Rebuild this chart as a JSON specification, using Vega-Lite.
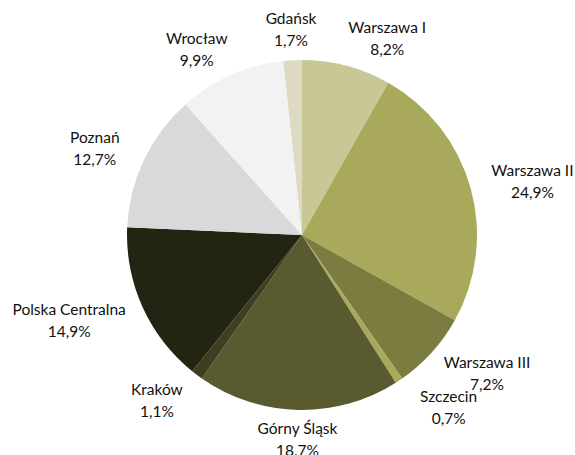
{
  "$schema": "https://vega.github.io/schema/vega-lite/v6.json",
  "width": 546,
  "height": 440,
  "autosize": "none",
  "padding": {"left": 29, "top": 15, "right": 0, "bottom": 0},
  "background": "white",
  "view": {"stroke": null},
  "data": {
    "values": [
      {"ord": 1, "region": "Warszawa I", "share": 8.2, "label": "Warszawa I\n8,2%"},
      {"ord": 2, "region": "Warszawa II", "share": 24.9, "label": "Warszawa II\n24,9%"},
      {"ord": 3, "region": "Warszawa III", "share": 7.2, "label": "Warszawa III\n7,2%"},
      {"ord": 4, "region": "Szczecin", "share": 0.7, "label": "Szczecin\n0,7%"},
      {"ord": 5, "region": "Górny Śląsk", "share": 18.7, "label": "Górny Śląsk\n18,7%"},
      {"ord": 6, "region": "Kraków", "share": 1.1, "label": "Kraków\n1,1%"},
      {"ord": 7, "region": "Polska Centralna", "share": 14.9, "label": "Polska Centralna\n14,9%"},
      {"ord": 8, "region": "Poznań", "share": 12.7, "label": "Poznań\n12,7%"},
      {"ord": 9, "region": "Wrocław", "share": 9.9, "label": "Wrocław\n9,9%"},
      {"ord": 10, "region": "Gdańsk", "share": 1.7, "label": "Gdańsk\n1,7%"}
    ]
  },
  "encoding": {
    "theta": {"field": "share", "type": "quantitative", "stack": true},
    "order": {"field": "ord", "type": "quantitative"}
  },
  "layer": [
    {
      "mark": {"type": "arc", "outerRadius": 175},
      "encoding": {
        "color": {
          "field": "region",
          "type": "nominal",
          "legend": null,
          "scale": {
            "domain": ["Warszawa I", "Warszawa II", "Warszawa III", "Szczecin", "Górny Śląsk", "Kraków", "Polska Centralna", "Poznań", "Wrocław", "Gdańsk"],
            "range": ["#c8c896", "#a8a95a", "#7b7c40", "#a8a95a", "#5a5a30", "#3e3f22", "#242413", "#d9d9d9", "#f2f2f2", "#ddd9c3"]
          }
        }
      }
    },
    {
      "mark": {"type": "text", "radius": 205, "dx": 33, "dy": -9, "font": "Lato", "fontSize": 15.5, "lineHeight": 22, "lineBreak": "\n", "color": "#111111", "align": "center", "baseline": "middle"},
      "encoding": {
        "text": {"field": "label", "type": "nominal"},
        "opacity": {"condition": {"test": "indexof(['Warszawa I','Warszawa II','Warszawa III','Szczecin'], datum.region) >= 0", "value": 1}, "value": 0}
      }
    },
    {
      "mark": {"type": "text", "radius": 205, "dx": -22, "dy": -9, "font": "Lato", "fontSize": 15.5, "lineHeight": 22, "lineBreak": "\n", "color": "#111111", "align": "center", "baseline": "middle"},
      "encoding": {
        "text": {"field": "label", "type": "nominal"},
        "opacity": {"condition": {"test": "indexof(['Kraków','Poznań','Wrocław'], datum.region) >= 0", "value": 1}, "value": 0}
      }
    },
    {
      "mark": {"type": "text", "radius": 205, "dx": -46, "dy": -9, "font": "Lato", "fontSize": 15.5, "lineHeight": 22, "lineBreak": "\n", "color": "#111111", "align": "center", "baseline": "middle"},
      "encoding": {
        "text": {"field": "label", "type": "nominal"},
        "opacity": {"condition": {"test": "datum.region === 'Polska Centralna'", "value": 1}, "value": 0}
      }
    },
    {
      "mark": {"type": "text", "radius": 205, "dy": -11, "font": "Lato", "fontSize": 15.5, "lineHeight": 22, "lineBreak": "\n", "color": "#111111", "align": "center", "baseline": "middle"},
      "encoding": {
        "text": {"field": "label", "type": "nominal"},
        "opacity": {"condition": {"test": "indexof(['Gdańsk','Górny Śląsk'], datum.region) >= 0", "value": 1}, "value": 0}
      }
    }
  ]
}
